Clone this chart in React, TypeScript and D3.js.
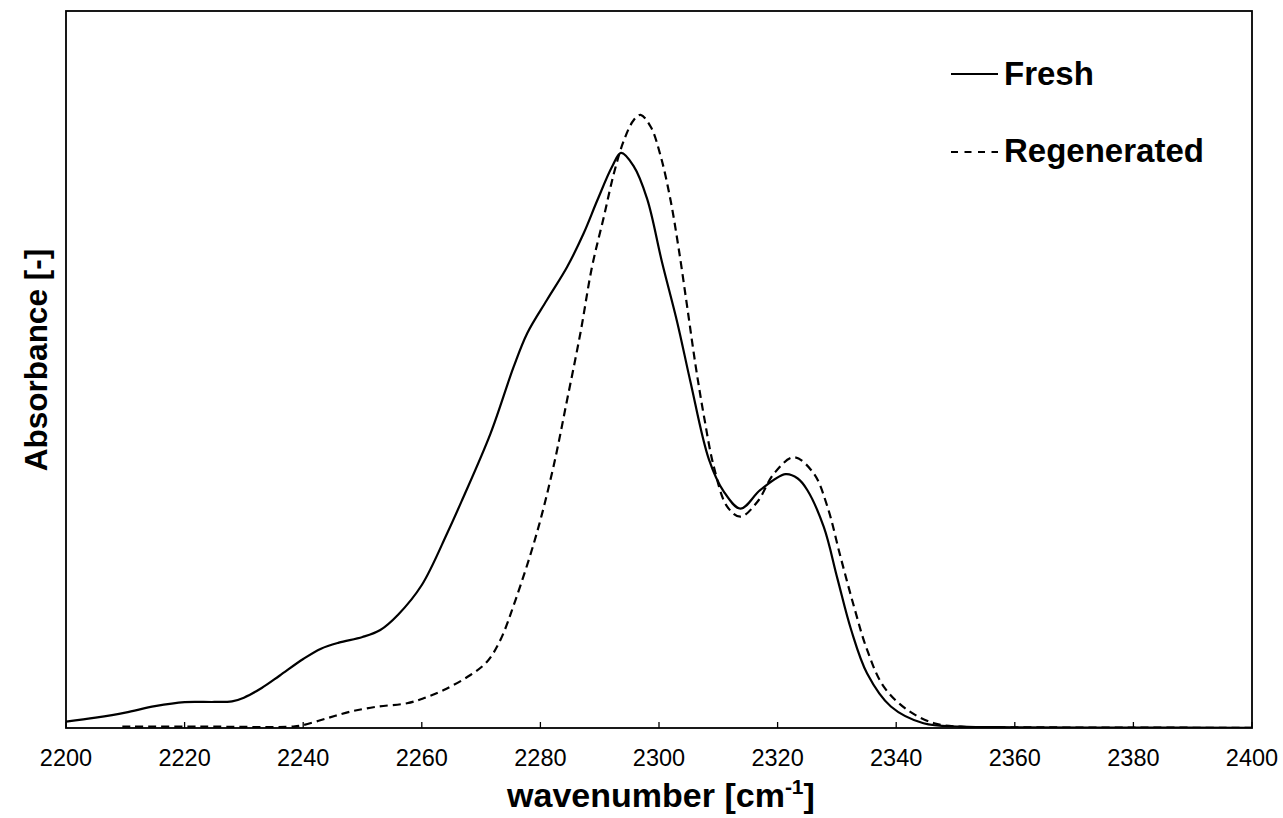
import React from "react";
import * as d3 from "d3";

const freshWn = [2200, 2205, 2210, 2215, 2220, 2225, 2228, 2230, 2233, 2236, 2240, 2243, 2246, 2250, 2253, 2256, 2260, 2264.3, 2266.8, 2271.6, 2275.5, 2277.8, 2281.1, 2284.5, 2287.3, 2289.6, 2292.1, 2293.6, 2295.7, 2298.0, 2300.5, 2303.1, 2305.3, 2308.4, 2310.9, 2313.75, 2317.1, 2321.35, 2323.4, 2325.0, 2327.8, 2330.1, 2332.4, 2335.1, 2339.1, 2344.6, 2350.9, 2360, 2380, 2400];
const freshAbs = [0.0088, 0.0145, 0.0215, 0.0305, 0.0362, 0.0363, 0.0372, 0.0423, 0.0558, 0.0729, 0.0962, 0.1106, 0.119, 0.1269, 0.1367, 0.158, 0.1994, 0.272, 0.318, 0.411, 0.504, 0.551, 0.597, 0.643, 0.690, 0.736, 0.783, 0.802, 0.784, 0.738, 0.650, 0.565, 0.483, 0.375, 0.330, 0.306, 0.332, 0.354, 0.348, 0.332, 0.280, 0.208, 0.137, 0.076, 0.030, 0.0066, 0.002, 0.001, 0.0005, 0.0003];

const regenWn = [2209.5, 2222.6, 2238.3, 2240.05, 2244.0, 2247.9, 2252.4, 2257.5, 2260.3, 2263.7, 2268.2, 2271.0, 2273.25, 2275.8, 2279.4, 2282.2, 2284.5, 2286.75, 2288.7, 2290.7, 2292.4, 2294.1, 2295.75, 2296.9, 2298.6, 2300.3, 2301.95, 2303.35, 2304.75, 2306.2, 2307.6, 2309.25, 2311.5, 2313.75, 2316.6, 2319.4, 2322.75, 2326.1, 2328.4, 2330.6, 2332.9, 2335.1, 2337.9, 2341.9, 2346.4, 2350.9, 2360, 2380, 2400];
const regenAbs = [0.002, 0.002, 0.002, 0.0042, 0.0135, 0.0227, 0.0297, 0.0345, 0.0414, 0.053, 0.0739, 0.0925, 0.1227, 0.1785, 0.272, 0.3644, 0.4575, 0.551, 0.643, 0.713, 0.7737, 0.820, 0.848, 0.855, 0.8386, 0.797, 0.736, 0.667, 0.5876, 0.504, 0.434, 0.3644, 0.3087, 0.2947, 0.3156, 0.355, 0.3775, 0.355, 0.3087, 0.239, 0.1688, 0.1088, 0.0576, 0.0251, 0.0066, 0.0018, 0.001, 0.0005, 0.0003];

const xTicks = [2200, 2220, 2240, 2260, 2280, 2300, 2320, 2340, 2360, 2380, 2400];
const seriesNames = ["Fresh", "Regenerated"];

export default function App() {
  const W = 1283, H = 818;
  const left = 66, right = 1252, top = 11, bottom = 728;
  const x = d3.scaleLinear().domain([2200, 2400]).range([left, right]);
  const y = d3.scaleLinear().domain([0, 1]).range([bottom, top]);
  const line = d3.line<[number, number]>().x(d => x(d[0])).y(d => y(d[1])).curve(d3.curveCatmullRom.alpha(0.5));
  const fresh = freshWn.map((w, i) => [w, freshAbs[i]] as [number, number]);
  const regen = regenWn.map((w, i) => [w, regenAbs[i]] as [number, number]);
  const font = "Arial, 'Liberation Sans', sans-serif";
  return (
    <svg width={W} height={H} style={{ position: "absolute", left: 0, top: 0, background: "#fff" }} fontFamily={font}>
      <defs>
        <clipPath id="plot"><rect x={left} y={top} width={right - left} height={bottom - top} /></clipPath>
      </defs>
      <g clipPath="url(#plot)">
        <path d={line(fresh) || ""} fill="none" stroke="#000" strokeWidth={2.2} />
        <path d={line(regen) || ""} fill="none" stroke="#000" strokeWidth={2.2} strokeDasharray="8,5" />
      </g>
      <rect x={left} y={top} width={right - left} height={bottom - top} fill="none" stroke="#000" strokeWidth={1.8} />
      {xTicks.map(t => (
        <g key={t}>
          <line x1={x(t)} x2={x(t)} y1={bottom} y2={bottom - 6} stroke="#000" strokeWidth={1.3} />
          <text x={x(t)} y={766} textAnchor="middle" fontSize={23.5} fill="#000">{t}</text>
        </g>
      ))}
      <text x={661} y={807} textAnchor="middle" fontSize={34} fontWeight="bold" fill="#000">
        wavenumber [cm<tspan dy={-13} fontSize={21}>-1</tspan><tspan dy={13}>]</tspan>
      </text>
      <text transform={`translate(47, 360) rotate(-90)`} textAnchor="middle" fontSize={31.5} fontWeight="bold" fill="#000">
        Absorbance [-]
      </text>
      <line x1={951} x2={998} y1={74} y2={74} stroke="#000" strokeWidth={2} />
      <text x={1004} y={85} fontSize={33} fontWeight="bold" fill="#000">{seriesNames[0]}</text>
      <line x1={951} x2={998} y1={152} y2={152} stroke="#000" strokeWidth={2} strokeDasharray="7,6.5" />
      <text x={1004} y={162} fontSize={33} fontWeight="bold" fill="#000">{seriesNames[1]}</text>
    </svg>
  );
}
